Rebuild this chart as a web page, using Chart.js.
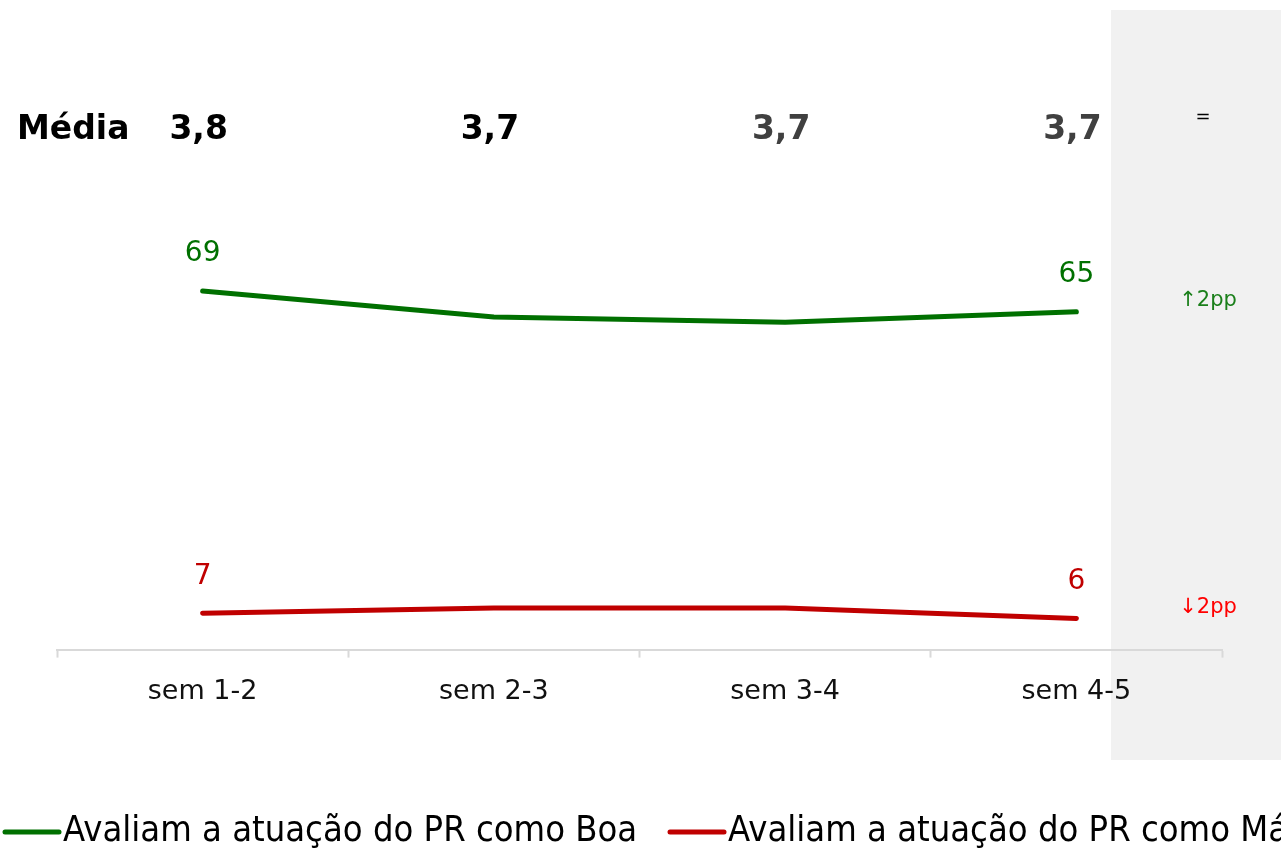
<!DOCTYPE html>
<html lang="pt">
  <head>
    <meta charset="UTF-8" />
    <title>Avaliação do PR</title>
    <style>
      body {
        margin: 0;
        background: #fff;
        overflow: hidden;
      }
      #wrap {
        position: relative;
        width: 1281px;
        height: 849px;
      }
    </style>
  </head>
  <body>
    <div id="wrap">
      <canvas id="chart" width="1281" height="849"></canvas>
    </div>

    <script src="https://cdn.jsdelivr.net/npm/chart.js"></script>
    <script>
      // dados
      const semanas = ["sem 1-2", "sem 2-3", "sem 3-4", "sem 4-5"];
      const boa = [69, 64, 63, 65];
      const ma = [7, 8, 8, 6];
      const media = [3.8, 3.7, 3.7, 3.7];
      const legendaBoa = "Avaliam a atuação do PR como Boa";
      const legendaMa = "Avaliam a atuação do PR como Má/Péssima";

      const FONT = "'DejaVu Sans', sans-serif";
      const corMedia = ["#000000", "#000000", "#404040", "#404040"];

      function fmt(v) {
        return v.toFixed(1).replace(".", ",");
      }

      // painel cinza a direita
      const panelPlugin = {
        id: "panel",
        beforeDraw(chart) {
          const ctx = chart.ctx;
          ctx.save();
          ctx.fillStyle = "#f1f1f1";
          ctx.fillRect(1111, 10, 170, 750);
          ctx.restore();
        },
      };

      // rotulos, media, variacao e legenda
      const extrasPlugin = {
        id: "extras",
        afterDraw(chart) {
          const ctx = chart.ctx;
          const x = chart.scales.x;
          ctx.save();
          ctx.textBaseline = "middle";

          // linha "Média"
          ctx.font = "bold 33px " + FONT;
          ctx.fillStyle = "#000";
          ctx.textAlign = "left";
          ctx.fillText("Média", 17, 130);
          ctx.textAlign = "center";
          media.forEach((m, i) => {
            ctx.fillStyle = corMedia[i];
            ctx.fillText(fmt(m), x.getPixelForValue(i) - 4, 130);
          });
          const dm = media[media.length - 1] - media[media.length - 2];
          ctx.font = "18px " + FONT;
          ctx.fillStyle = "#000";
          ctx.fillText(Math.abs(dm) < 0.05 ? "=" : fmt(dm), 1203, 117);

          // rotulos dos pontos (primeiro e ultimo)
          chart.data.datasets.forEach((ds, di) => {
            const meta = chart.getDatasetMeta(di);
            const n = ds.data.length;
            ctx.font = "28px " + FONT;
            ctx.fillStyle = ds.borderColor;
            [0, n - 1].forEach((i) => {
              const p = meta.data[i];
              ctx.fillText(String(ds.data[i]), p.x, p.y - 37);
            });
            // variacao em pp
            const d = ds.data[n - 1] - ds.data[n - 2];
            const last = meta.data[n - 1];
            ctx.font = "21px " + FONT;
            ctx.fillStyle = ds.deltaColor;
            const arrow = d > 0 ? "↑" : d < 0 ? "↓" : "=";
            ctx.fillText(arrow + Math.abs(d) + "pp", 1208, last.y - 11);
          });

          // legenda
          const itens = [
            { x: 3, ds: chart.data.datasets[0] },
            { x: 668, ds: chart.data.datasets[1] },
          ];
          itens.forEach((it) => {
            ctx.strokeStyle = it.ds.borderColor;
            ctx.lineWidth = 5;
            ctx.lineCap = "round";
            ctx.beginPath();
            ctx.moveTo(it.x + 2, 832);
            ctx.lineTo(it.x + 56, 832);
            ctx.stroke();
            ctx.save();
            ctx.translate(it.x + 60, 832);
            ctx.scale(0.9, 1);
            ctx.font = "36px " + FONT;
            ctx.fillStyle = "#000";
            ctx.textAlign = "left";
            ctx.fillText(it.ds.label, 0, 0);
            ctx.restore();
          });
          ctx.restore();
        },
      };

      new Chart(document.getElementById("chart"), {
        type: "line",
        data: {
          labels: semanas,
          datasets: [
            {
              label: legendaBoa,
              data: boa,
              borderColor: "#007000",
              deltaColor: "#1a7f1a",
              borderWidth: 5,
              borderCapStyle: "round",
              pointRadius: 0,
              tension: 0,
            },
            {
              label: legendaMa,
              data: ma,
              borderColor: "#c00000",
              deltaColor: "#ff0000",
              borderWidth: 5,
              borderCapStyle: "round",
              pointRadius: 0,
              tension: 0,
            },
          ],
        },
        options: {
          responsive: false,
          animation: false,
          layout: {
            padding: { left: 57, right: 59, top: 130, bottom: 123 },
          },
          plugins: {
            legend: { display: false },
            tooltip: { enabled: false },
          },
          scales: {
            x: {
              offset: true,
              grid: {
                offset: true,
                drawOnChartArea: false,
                color: "#d9d9d9",
                tickLength: 8,
                tickWidth: 2,
              },
              border: { color: "#d9d9d9", width: 2 },
              ticks: {
                color: "#111",
                padding: 18,
                font: { family: FONT, size: 27 },
              },
            },
            y: {
              display: false,
              min: 0,
              max: 100,
            },
          },
        },
        plugins: [panelPlugin, extrasPlugin],
      });
    </script>
  </body>
</html>
